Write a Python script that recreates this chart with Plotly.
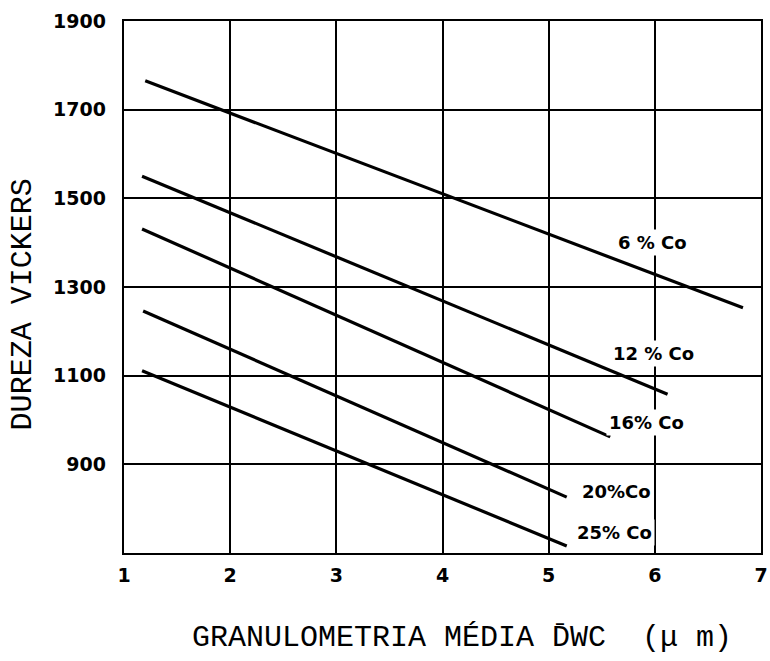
import plotly.graph_objects as go

# Vickers hardness vs. mean WC grain size, one straight line per cobalt content
series_names = ["6 % Co", "12 % Co", "16% Co", "20%Co", "25% Co"]
grain_start = [1.20, 1.17, 1.17, 1.18, 1.17]
grain_end = [6.83, 6.12, 5.58, 5.17, 5.17]
hardness_start = [1765, 1550, 1431, 1246, 1111]
hardness_end = [1253, 1058, 962, 826, 716]

# label anchor positions (data units)
label_x = [5.98, 5.99, 5.92, 5.64, 5.62]
label_y = [1400, 1151, 995, 838, 747]

x_ticks = [1, 2, 3, 4, 5, 6, 7]
y_ticks = [900, 1100, 1300, 1500, 1700, 1900]

fig = go.Figure()

for name, x0, x1, y0, y1 in zip(series_names, grain_start, grain_end,
                                hardness_start, hardness_end):
    fig.add_trace(go.Scatter(
        x=[x0, x1], y=[y0, y1], mode="lines", name=name,
        line=dict(color="black", width=3.2),
        showlegend=False, hoverinfo="skip",
    ))

for name, lx, ly in zip(series_names, label_x, label_y):
    fig.add_annotation(
        x=lx, y=ly, xref="x", yref="y", text=f"<b>{name}</b>", showarrow=False,
        font=dict(family="DejaVu Sans", size=18, color="black"),
        bgcolor="white", borderpad=2,
    )

tick_font = dict(family="DejaVu Sans", size=19, color="black", weight="bold")
title_font = dict(family="Liberation Mono", size=30, color="black")

fig.add_annotation(
    x=0.53, y=-0.16, xref="paper", yref="paper",
    text="GRANULOMETRIA MÉDIA D̄WC  (μ m)", showarrow=False,
    font=title_font, xanchor="center", yanchor="middle",
)
fig.add_annotation(
    x=-0.158, y=0.468, xref="paper", yref="paper",
    text="DUREZA VICKERS", showarrow=False, textangle=-90,
    font=title_font, xanchor="center", yanchor="middle",
)

fig.update_xaxes(
    range=[1, 7], tickvals=x_ticks, ticktext=[str(v) for v in x_ticks],
    showgrid=True, gridcolor="black", gridwidth=1.6,
    showline=True, linecolor="black", linewidth=2.4, mirror=True,
    ticks="", tickfont=tick_font, ticklabelstandoff=4, zeroline=False,
    ticklabeloverflow="allow", automargin=False,
)
fig.update_yaxes(
    range=[700, 1900], tickvals=y_ticks, ticktext=[str(v) for v in y_ticks],
    showgrid=True, gridcolor="black", gridwidth=1.6,
    showline=True, linecolor="black", linewidth=2.4, mirror=True,
    ticks="", tickfont=tick_font, ticklabelstandoff=12, zeroline=False,
    ticklabeloverflow="allow", automargin=False,
)

fig.update_layout(
    width=770, height=661,
    margin=dict(l=124, r=9, t=21, b=108),
    plot_bgcolor="white", paper_bgcolor="white",
)

fig.write_html("out.html")
